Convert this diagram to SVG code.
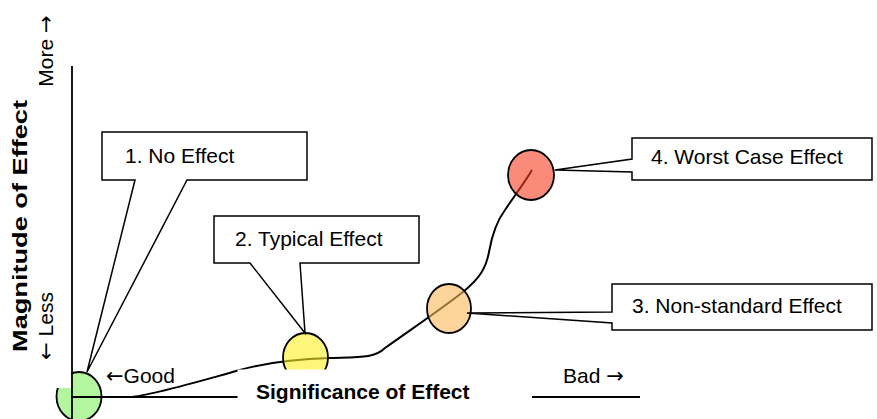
<svg xmlns="http://www.w3.org/2000/svg" width="877" height="419" viewBox="0 0 877 419">
<style>
  .lbl { font-family: "Liberation Sans", Arial, sans-serif; font-size: 21px; fill: #000; }
  .bold { font-weight: bold; }
  .arr { font-family: "DejaVu Sans", sans-serif; font-weight: normal; }
  .box { fill: #fff; stroke: #000; stroke-width: 1.5; stroke-linejoin: miter; }
  .axis { stroke: #000; stroke-width: 1.8; fill: none; }
  .curve { stroke: #000; stroke-width: 2; fill: none; }
  .dot { stroke: #000; stroke-width: 1.8; fill-opacity: 0.6; }
</style>
<rect width="877" height="419" fill="#fff"/>

<g id="connectors">
  <path class="curve" d="M 80,397 L 130,397 C 150,396 200,381 240,370 C 265,363 290,359 330,358 C 360,357 375,358 385,348 C 410,330 440,310 463,292 C 480,278 486,268 489,252 C 492,235 496,222 505,210 C 515,195 525,182 532,170"/>
</g>

<g id="node-good">
  <ellipse class="dot" cx="79" cy="396.5" rx="22.5" ry="24.5" fill="#82ee61"/>
</g>
<g id="node-typical">
  <ellipse class="dot" cx="305.5" cy="357.5" rx="22.5" ry="24.5" fill="#fcf021"/>
</g>
<g id="node-nonstandard">
  <ellipse class="dot" cx="449" cy="308.5" rx="22" ry="24.5" fill="#fcb75a"/>
</g>
<g id="node-worst">
  <ellipse class="dot" cx="531" cy="175" rx="23" ry="25" fill="#f73c21"/>
</g>

<!-- white backgrounds of text boxes -->
<rect x="20" y="290" width="51" height="98" fill="#fff"/>
<rect x="237.5" y="369.5" width="294.5" height="49.5" fill="#fff"/>

<g id="axes">
  <line class="axis" x1="72" y1="66" x2="72" y2="419"/>
  <line class="axis" x1="72" y1="397" x2="237.5" y2="397"/>
  <line class="axis" x1="532" y1="397" x2="640" y2="397"/>
</g>

<g id="callout-1">
  <path class="box" d="M102,132 H307 V180 H187 L87,372 L135,180 H102 Z"/>
  <text class="lbl" x="125" y="163">1. No Effect</text>
</g>
<g id="callout-2">
  <path class="box" d="M214,216 H419 V263 H300 L305,333 L250,263 H214 Z"/>
  <text class="lbl" x="235" y="246">2. Typical Effect</text>
</g>
<g id="callout-3">
  <path class="box" d="M612,284 H872 V330 H612 V323 L467,313 L612,312 Z"/>
  <text class="lbl" x="632" y="313">3. Non-standard Effect</text>
</g>
<g id="callout-4">
  <path class="box" d="M632,138 H872 V180 H632 V172 L555,170 L632,159 Z"/>
  <text class="lbl" x="651" y="164">4. Worst Case Effect</text>
</g>

<g id="axis-labels">
  <text class="lbl" transform="translate(53,51) rotate(-90)" text-anchor="middle">More <tspan class="arr">→</tspan></text>
  <text class="lbl bold" transform="translate(27,226) rotate(-90)" text-anchor="middle" textLength="252" lengthAdjust="spacingAndGlyphs">Magnitude of Effect</text>
  <text class="lbl" transform="translate(53,326) rotate(-90)" text-anchor="middle"><tspan class="arr">←</tspan> Less</text>
  <text class="lbl" x="106" y="383"><tspan class="arr">←</tspan>Good</text>
  <text class="lbl" x="563" y="383">Bad <tspan class="arr">→</tspan></text>
  <text class="lbl bold" x="256" y="399">Significance of Effect</text>
</g>
</svg>
